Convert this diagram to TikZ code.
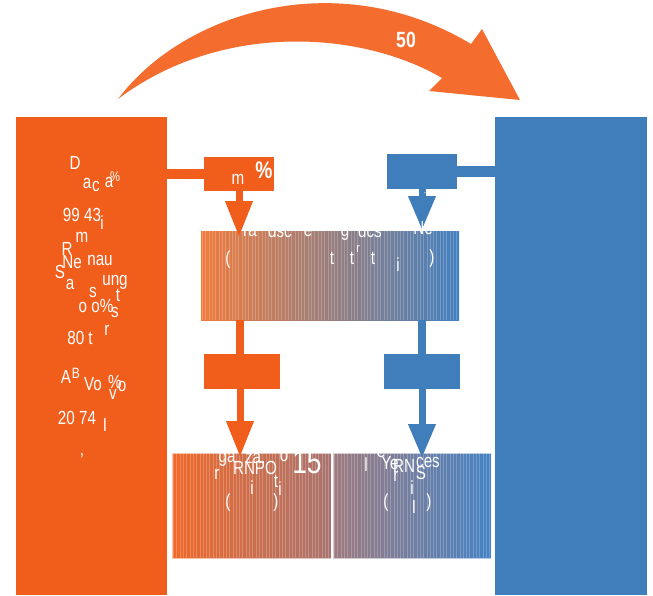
\documentclass[tikz,border=0pt]{standalone}
\usepackage{fontspec}
\setmainfont{Liberation Sans}[FakeStretch=0.8]
\usetikzlibrary{arrows.meta,calc}

\definecolor{srcorange}{RGB}{241,94,28}
\definecolor{arcorange}{RGB}{244,109,47}
\definecolor{dstblue}{RGB}{64,126,187}
\definecolor{midA}{RGB}{240,124,60}
\definecolor{midM}{RGB}{188,146,134}
\definecolor{midB}{RGB}{66,128,192}
\definecolor{outLA}{RGB}{240,104,40}
\definecolor{outLB}{RGB}{168,116,112}
\definecolor{outRA}{RGB}{158,122,126}
\definecolor{outRB}{RGB}{68,130,196}

\newcommand{\frag}[4][]{\node[txt,#1] (#2) at #3 {#4};}

\tikzset{
  blk/.style={draw=none, inner sep=0pt, outer sep=0pt},
  stripe/.style={white, line width=0.7pt, opacity=0.22},
  edge/.style={draw=white, draw opacity=0.6, line width=0.8pt},
  flowO/.style={draw=srcorange, line width=7pt, -{Triangle[width=26pt,length=36pt]}},
  flowB/.style={draw=dstblue, line width=7pt, -{Triangle[width=26pt,length=34pt]}},
  barO/.style={draw=srcorange, line width=9pt},
  barB/.style={draw=dstblue, line width=9pt},
  txt/.style={text=white, inner sep=0pt, font=\fontsize{19}{19}\selectfont},
  big/.style={font=\fontsize{33}{33}\selectfont},
  pct/.style={font=\fontsize{24}{24}\selectfont\bfseries},
}

\begin{document}
\begin{tikzpicture}[x=1pt, y=-1pt]
\useasboundingbox (0,0) rectangle (653,595);

% side columns
\node[blk, fill=srcorange, minimum width=151pt, minimum height=478pt] (src) at (91.5,356) {};
\node[blk, fill=dstblue, minimum width=152pt, minimum height=478pt] (dst) at (571,356) {};

% curved transfer arrow over the top
\fill[arcorange] (118,99) .. controls (185,10) and (340,-35) .. (471,44)
  -- (482,29) -- (520,100) -- (429,91) -- (442,78)
  .. controls (360,30) and (220,22) .. (118,99) -- cycle;
\node[txt, font=\fontsize{22}{22}\selectfont\bfseries] (num) at (406,40) {50};

% tags fed by the columns
\node[blk, fill=srcorange, minimum width=70pt, minimum height=34pt] (tagL) at (239,174) {};
\node[blk, fill=dstblue, minimum width=70pt, minimum height=35pt] (tagR) at (422,171.5) {};
\draw[barO, line width=10pt] (tagL.west) -- (tagL.west -| src.east);
\draw[barB, line width=11pt] (tagR.east) -- (tagR.east -| dst.west);

% shared middle stage
\node[blk, left color=midA, middle color=midM, right color=midB,
      minimum width=258pt, minimum height=89pt] (mid) at (330,275.5) {};
\foreach \k in {0,...,77}
  \draw[stripe] ($(mid.north west)+(\k*3.3+1.5,0)$) -- ($(mid.south west)+(\k*3.3+1.5,0)$);

% intermediate steps
\node[blk, fill=srcorange, minimum width=76pt, minimum height=35pt] (stepL) at (242,371.5) {};
\node[blk, fill=dstblue, minimum width=76pt, minimum height=35pt] (stepR) at (422,371.5) {};

% output blocks
\node[blk, left color=outLA, right color=outLB,
      minimum width=159pt, minimum height=105pt] (outL) at (251.5,505.5) {};
\node[blk, left color=outRA, right color=outRB,
      minimum width=158pt, minimum height=105pt] (outR) at (412,505.5) {};
\foreach \k in {0,...,47}
  \draw[stripe] ($(outL.north west)+(\k*3.3+1.5,0)$) -- ($(outL.south west)+(\k*3.3+1.5,0)$);
\foreach \k in {0,...,47}
  \draw[stripe] ($(outR.north west)+(\k*3.3+1.5,0)$) -- ($(outR.south west)+(\k*3.3+1.5,0)$);
\draw[edge] (outL.north west) rectangle (outL.south east);
\draw[edge] (outR.north west) rectangle (outR.south east);

% flows
\draw[flowO] (tagL.south) -- ($(tagL.south |- mid.north)+(0,6)$);
\draw[flowB] (tagR.south) -- ($(tagR.south |- mid.north)+(0,-1)$);
\draw[barO, line width=8pt] (mid.south -| 240,0) -- (stepL.north -| 240,0);
\draw[barB, line width=8pt] (mid.south -| stepR) -- (stepR.north);
\draw[flowO] (stepL.south -| 240,0) -- ($(outL.north -| 240,0)+(0,4)$);
\draw[flowB] (stepR.south) -- ($(stepR.south |- outR.north)+(0,5)$);

% lettering in the left column
\frag{l1}{(75,163)}{D}
\frag{l2}{(87,183)}{a}
\frag{l3}{(96,186)}{c}
\frag{l4}{(109,182)}{a}
\frag[font=\fontsize{14}{14}\selectfont]{l5}{(115,177)}{\%}
\frag{l6}{(82,215)}{99 43}
\frag{l7}{(102,223)}{i}
\frag{l8}{(82,237)}{m}
\frag{l9}{(67,249)}{R}
\frag{l10}{(72,262)}{Ne}
\frag{l11}{(100,260)}{nau}
\frag{l12}{(60,272)}{S}
\frag{l13}{(70,284)}{a}
\frag{l14}{(115,282)}{ung}
\frag{l15}{(93,292)}{s}
\frag{l16}{(118,295)}{t}
\frag{l17}{(96,306)}{o o\%}
\frag{l18}{(115,312)}{s}
\frag{l19}{(80,338)}{80 t}
\frag{l20}{(107,330)}{r}
\frag{l21}{(66,377)}{A}
\frag[font=\fontsize{15}{15}\selectfont]{l22}{(76,373)}{B}
\frag{l23}{(93,384)}{Vo}
\frag{l24}{(115,382)}{\%}
\frag{l25}{(122,386)}{o}
\frag{l26}{(113,394)}{v}
\frag{l27}{(77,418)}{20 74}
\frag{l28}{(105,425)}{I}
\frag{l29}{(82,456)}{,}

% lettering on the tags
\frag{t1}{(238,179)}{m}
\frag[pct]{t2}{(264,170)}{\%}
\frag[font=\fontsize{10}{10}\selectfont]{t3}{(425,193)}{.}

% lettering on the middle stage
\frag{m1}{(250,231)}{ra}
\frag{m2}{(280,231)}{dsc}
\frag{m3}{(308,231)}{e}
\frag{m4}{(345,233)}{g}
\frag{m5}{(370,231)}{dcs}
\frag{m6}{(423,228)}{Ne}
\frag{m7}{(228,260)}{(}
\frag{m8}{(332,258)}{t}
\frag{m9}{(352,258)}{t}
\frag[font=\fontsize{13}{13}\selectfont]{m10}{(358,249)}{r}
\frag{m11}{(373,258)}{t}
\frag{m12}{(398,265)}{i}
\frag{m13}{(432,259)}{)}

% lettering on the left output
\frag{a1}{(227,459)}{ga}
\frag{a2}{(249,458)}{z}
\frag{a3}{(259,458)}{a.}
\frag{a4}{(284,456)}{o}
\frag[big]{a5}{(307,462)}{15}
\frag{a6}{(217,474)}{r}
\frag{a7}{(255,468)}{RNPO}
\frag{a8}{(276,481)}{t}
\frag{a9}{(280,489)}{i}
\frag{a10}{(252,488)}{i}
\frag{a11}{(228,503)}{(}
\frag{a12}{(276,503)}{)}

% lettering on the right output
\frag{b1}{(366,465)}{l}
\frag{b2}{(381,452)}{e}
\frag{b3}{(390,463)}{Ye}
\frag{b4}{(404,466)}{RN}
\frag{b5}{(428,462)}{ces}
\frag{b6}{(396,476)}{r}
\frag{b7}{(421,473)}{S}
\frag{b8}{(412,488)}{i}
\frag{b9}{(386,503)}{(}
\frag{b10}{(414,507)}{I}
\frag{b11}{(429,503)}{)}
\end{tikzpicture}
\end{document}
